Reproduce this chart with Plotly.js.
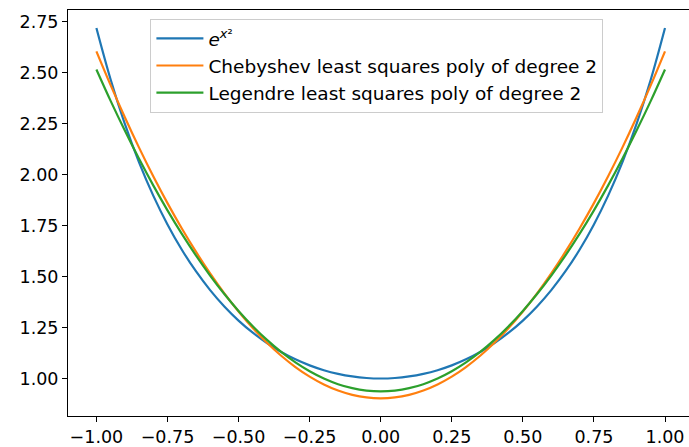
<!DOCTYPE html>
<html>
<head>
<meta charset="utf-8">
<script src="https://cdn.plot.ly/plotly-3.0.1.min.js"></script>
<style>html,body{margin:0;padding:0;background:#fff;}#chart{width:689px;height:447px;}</style>
</head>
<body>
<div id="chart"></div>
<script>
const xValues = [-1.00,-0.95,-0.90,-0.85,-0.80,-0.75,-0.70,-0.65,-0.60,-0.55,-0.50,-0.45,-0.40,-0.35,-0.30,-0.25,-0.20,-0.15,-0.10,-0.05,0.00,0.05,0.10,0.15,0.20,0.25,0.30,0.35,0.40,0.45,0.50,0.55,0.60,0.65,0.70,0.75,0.80,0.85,0.90,0.95,1.00];
const expValues = [2.7183,2.4658,2.2479,2.0596,1.8965,1.7551,1.6323,1.5258,1.4333,1.3532,1.2840,1.2245,1.1735,1.1303,1.0942,1.0645,1.0408,1.0228,1.0101,1.0025,1.0000,1.0025,1.0101,1.0228,1.0408,1.0645,1.0942,1.1303,1.1735,1.2245,1.2840,1.3532,1.4333,1.5258,1.6323,1.7551,1.8965,2.0596,2.2479,2.4658,2.7183];
const chebValues = [2.6038,2.4380,2.2807,2.1318,1.9915,1.8597,1.7364,1.6216,1.5153,1.4175,1.3282,1.2474,1.1751,1.1114,1.0561,1.0093,0.9710,0.9413,0.9200,0.9073,0.9030,0.9073,0.9200,0.9413,0.9710,1.0093,1.0561,1.1114,1.1751,1.2474,1.3282,1.4175,1.5153,1.6216,1.7364,1.8597,1.9915,2.1318,2.2807,2.4380,2.6038];
const legValues = [2.5147,2.3608,2.2152,2.0768,1.9466,1.8243,1.7099,1.6034,1.5048,1.4140,1.3312,1.2562,1.1892,1.1300,1.0787,1.0353,0.9998,0.9722,0.9525,0.9406,0.9367,0.9406,0.9525,0.9722,0.9998,1.0353,1.0787,1.1300,1.1892,1.2562,1.3312,1.4140,1.5048,1.6034,1.7099,1.8243,1.9466,2.0768,2.2152,2.3608,2.5147];
const seriesNames = ['<i>e</i><sup><i>x</i>²</sup>', 'Chebyshev least squares poly of degree 2', 'Legendre least squares poly of degree 2'];
const xTicks = [-1.00,-0.75,-0.50,-0.25,0.00,0.25,0.50,0.75,1.00];
const yTicks = [1.00,1.25,1.50,1.75,2.00,2.25,2.50,2.75];

const colors = ['#1f77b4', '#ff7f0e', '#2ca02c'];
const ys = [expValues, chebValues, legValues];
const data = ys.map((y, i) => ({
  x: xValues, y: y, type: 'scatter', mode: 'lines', name: seriesNames[i],
  line: {color: colors[i], width: 2.2, shape: 'spline'}
}));

const font = {family: 'DejaVu Sans', size: 17.5, color: '#000'};
const layout = {
  width: 689, height: 447,
  margin: {l: 68, r: 0, t: 10, b: 31},
  paper_bgcolor: '#fff', plot_bgcolor: '#fff',
  font: font,
  showlegend: true,
  legend: {
    x: 0.1327, y: 0.978, xanchor: 'left', yanchor: 'top',
    bgcolor: 'rgba(255,255,255,0.8)', bordercolor: '#cccccc', borderwidth: 1,
    font: {family: 'DejaVu Sans', size: 18.5, color: '#000'},
    itemwidth: 47,
    tracegroupgap: 0
  },
  xaxis: {
    range: [-1.0999, 1.0844], tickvals: xTicks, tickformat: '.2f',
    showgrid: false, zeroline: false, showline: true, mirror: true,
    linecolor: '#000', linewidth: 1, ticks: 'outside', ticklen: 5, tickcolor: '#000',
    tickfont: font
  },
  yaxis: {
    range: [0.8162, 2.8064], tickvals: yTicks, tickformat: '.2f',
    showgrid: false, zeroline: false, showline: true, mirror: false,
    linecolor: '#000', linewidth: 1, ticks: 'outside', ticklen: 5, tickcolor: '#000',
    tickfont: font
  }
};
Plotly.newPlot('chart', data, layout, {displayModeBar: false, staticPlot: true});
</script>
</body>
</html>
